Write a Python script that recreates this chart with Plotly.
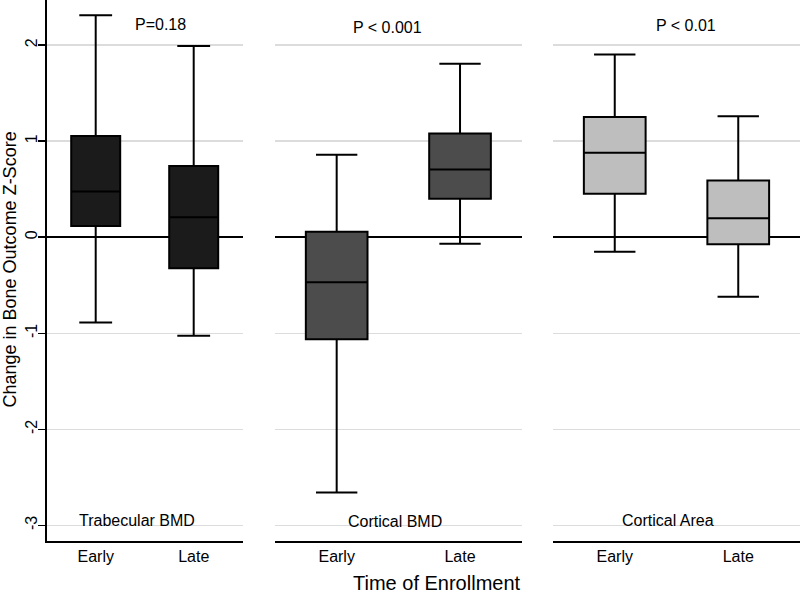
import plotly.graph_objects as go

# ---- data ----
groups = ["Early", "Late"]
panel_names = ["Trabecular BMD", "Cortical BMD", "Cortical Area"]
p_labels = ["P=0.18", "P < 0.001", "P < 0.01"]

# per panel: [Early, Late]
q1 = [[0.118, -0.324], [-1.063, 0.400], [0.452, -0.073]]
median = [[0.476, 0.209], [-0.470, 0.706], [0.880, 0.198]]
q3 = [[1.054, 0.741], [0.058, 1.081], [1.253, 0.591]]
lower = [[-0.887, -1.027], [-2.659, -0.067], [-0.150, -0.620]]
upper = [[2.310, 1.990], [0.859, 1.806], [1.903, 1.259]]

fill_colors = ["#1b1b1b", "#4c4c4c", "#bebebe"]
y_ticks = [-3, -2, -1, 0, 1, 2]
y_ticktext = ["-3", "-2", "-1", "0", "1", "2"]

FONT = "Liberation Sans, Arial, Helvetica, sans-serif"
W, H = 800, 597
PLOT_H = 541

fig = go.Figure()
for i in range(3):
    sfx = "" if i == 0 else str(i + 1)
    fig.add_trace(go.Box(
        x=[0, 1],
        q1=q1[i], median=median[i], q3=q3[i],
        lowerfence=lower[i], upperfence=upper[i],
        width=0.5, whiskerwidth=0.67,
        fillcolor=fill_colors[i],
        line=dict(color="black", width=2),
        boxpoints=False, hoverinfo="skip", showlegend=False,
        xaxis="x" + sfx, yaxis="y" + sfx,
    ))

domains = [[46.7 / W, 242.7 / W], [275 / W, 521.7 / W], [553 / W, 1.0]]
yrange = [-3.163, 2.47]

layout = dict(
    width=W, height=H,
    margin=dict(l=0, r=0, t=0, b=H - PLOT_H, autoexpand=False),
    paper_bgcolor="white", plot_bgcolor="white",
    font=dict(family=FONT, size=16, color="black"),
    showlegend=False,
)
for i in range(3):
    sfx = "" if i == 0 else str(i + 1)
    layout["xaxis" + sfx] = dict(
        domain=domains[i], range=[-0.5, 1.5],
        tickvals=[0, 1], ticktext=groups,
        showline=True, linecolor="black", linewidth=1.5,
        ticks="", showgrid=False, zeroline=False,
        tickfont=dict(size=16, family=FONT),
        anchor="y" + sfx, fixedrange=True, automargin=False,
    )
    ya = dict(
        domain=[0, 1], range=yrange, tickvals=y_ticks, ticktext=y_ticktext,
        showgrid=True, gridcolor="#dcdcdc", gridwidth=1.5,
        zeroline=True, zerolinecolor="black", zerolinewidth=1.5,
        anchor="x" + sfx, fixedrange=True, automargin=False,
    )
    if i == 0:
        ya.update(showline=True, linecolor="black", linewidth=1.5,
                  ticks="outside", ticklen=7, tickwidth=1.5, tickcolor="black",
                  tickangle=-90, ticklabelstandoff=-5,
                  tickfont=dict(size=16, family=FONT))
    else:
        ya.update(showline=False, showticklabels=False, ticks="", matches="y")
    layout["yaxis" + sfx] = ya

fig.update_layout(**layout)


def px_to_paper(px, py):
    return px / W, (PLOT_H - py) / PLOT_H


annots = []
p_pos = [(160, 24.5), (387.5, 28), (686, 25)]
n_pos = [(136.7, 520), (394.5, 521), (668, 520.7)]
for i in range(3):
    x, y = px_to_paper(*p_pos[i])
    annots.append(dict(text=p_labels[i], x=x, y=y, xref="paper", yref="paper",
                       showarrow=False, font=dict(size=16, family=FONT),
                       xanchor="center", yanchor="middle"))
    x, y = px_to_paper(*n_pos[i])
    annots.append(dict(text=panel_names[i], x=x, y=y, xref="paper", yref="paper",
                       showarrow=False, font=dict(size=16, family=FONT),
                       xanchor="center", yanchor="middle"))

x, y = px_to_paper(436.5, 583)
annots.append(dict(text="Time of Enrollment", x=x, y=y, xref="paper", yref="paper",
                   showarrow=False, font=dict(size=20, family=FONT),
                   xanchor="center", yanchor="middle"))
x, y = px_to_paper(9.5, 270)
annots.append(dict(text="Change in Bone Outcome Z-Score", x=x, y=y, xref="paper", yref="paper",
                   showarrow=False, textangle=-90, font=dict(size=18, family=FONT),
                   xanchor="center", yanchor="middle"))
fig.update_layout(annotations=annots)

fig.write_html("out.html",
               config={"displayModeBar": False, "staticPlot": True},
               post_script="document.body.style.margin='0';document.body.style.overflow='hidden';")
